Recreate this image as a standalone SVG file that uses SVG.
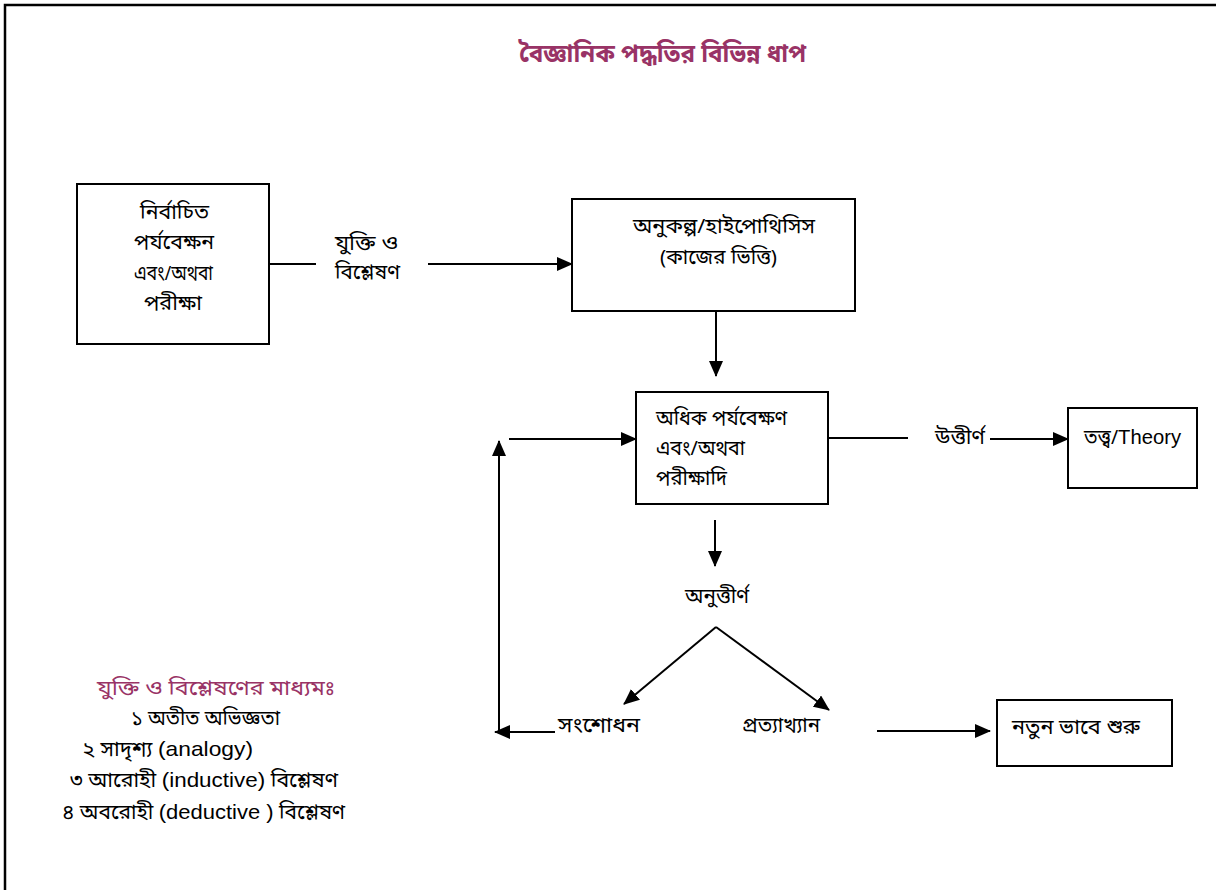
<svg xmlns="http://www.w3.org/2000/svg" width="1216" height="890" viewBox="0 0 1216 890">
<defs>
<marker id="ah" markerUnits="userSpaceOnUse" markerWidth="16" markerHeight="14" refX="15" refY="7" orient="auto">
<path d="M0,0 L16,7 L0,14 Z" fill="#000"/>
</marker>
<style>
.bx{fill:#fff;stroke:#000;stroke-width:2}
.t{font-family:"Noto Sans Bengali","Liberation Sans",sans-serif;font-size:20px;fill:#000}
.L{font-family:"Liberation Sans",sans-serif;font-size:21px}
.c{text-anchor:middle}
.m{fill:#993366}
.ln{stroke:#000;stroke-width:2;fill:none}
.ar{stroke:#000;stroke-width:2;fill:none;marker-end:url(#ah)}
</style>
</defs>
<rect width="1216" height="890" fill="#fff"/>
<path d="M5,895 L5,5 L1220,5" fill="none" stroke="#000" stroke-width="2.5"/>
<text class="t m" x="519" y="62" textLength="287" lengthAdjust="spacingAndGlyphs" style="font-size:25px;font-weight:bold">বৈজ্ঞানিক পদ্ধতির বিভিন্ন ধাপ</text>

<g id="connectors">
<line class="ln" x1="269" y1="264" x2="316" y2="264"/>
<line class="ar" x1="428" y1="264" x2="572" y2="264"/>
<line class="ar" x1="716" y1="311" x2="716" y2="376"/>
<line class="ln" x1="828" y1="438" x2="908" y2="438"/>
<line class="ar" x1="990" y1="439" x2="1068" y2="439"/>
<line class="ar" x1="715" y1="520" x2="715" y2="566"/>
<line class="ar" x1="716" y1="627" x2="624" y2="704"/>
<line class="ar" x1="716" y1="627" x2="829" y2="710"/>
<line class="ar" x1="555" y1="732" x2="495" y2="732"/>
<line class="ar" x1="499" y1="732" x2="499" y2="441"/>
<line class="ar" x1="509" y1="439" x2="636" y2="439"/>
<line class="ar" x1="877" y1="731" x2="990" y2="731"/>
</g>

<g id="n1">
<rect class="bx" x="77" y="184" width="192" height="160"/>
<text class="t" x="140" y="219" textLength="69" lengthAdjust="spacingAndGlyphs">নির্বাচিত</text>
<text class="t" x="134" y="249" textLength="80" lengthAdjust="spacingAndGlyphs">পর্যবেক্ষন</text>
<text class="t" x="134" y="280" textLength="79" lengthAdjust="spacingAndGlyphs">এবং/অথবা</text>
<text class="t" x="144" y="310" textLength="58" lengthAdjust="spacingAndGlyphs">পরীক্ষা</text>
</g>
<g id="lbl1">
<text class="t" x="335" y="250" textLength="63" lengthAdjust="spacingAndGlyphs">যুক্তি ও</text>
<text class="t" x="335" y="279" textLength="65" lengthAdjust="spacingAndGlyphs">বিশ্লেষণ</text>
</g>
<g id="n2">
<rect class="bx" x="572" y="199" width="283" height="112"/>
<text class="t" x="633" y="233" textLength="182" lengthAdjust="spacingAndGlyphs">অনুকল্প/হাইপোথিসিস</text>
<text class="t" x="660" y="264" textLength="117" lengthAdjust="spacingAndGlyphs">(কাজের ভিত্তি)</text>
</g>
<g id="n3">
<rect class="bx" x="636" y="392" width="192" height="112"/>
<text class="t" x="656" y="425" textLength="131" lengthAdjust="spacingAndGlyphs">অধিক পর্যবেক্ষণ</text>
<text class="t" x="656" y="455" textLength="89" lengthAdjust="spacingAndGlyphs">এবং/অথবা</text>
<text class="t" x="656" y="485" textLength="71" lengthAdjust="spacingAndGlyphs">পরীক্ষাদি</text>
</g>
<g id="lbl2">
<text class="t" x="935" y="444" textLength="50" lengthAdjust="spacingAndGlyphs">উত্তীর্ণ</text>
</g>
<g id="n4">
<rect class="bx" x="1068" y="408" width="129" height="80"/>
<text class="t" x="1084" y="444" textLength="97" lengthAdjust="spacingAndGlyphs">তত্ত্ব/<tspan class="L">Theory</tspan></text>
</g>
<g id="lbl3">
<text class="t" x="685" y="603" textLength="64" lengthAdjust="spacingAndGlyphs">অনুত্তীর্ণ</text>
</g>
<g id="n5">
<text class="t" x="558" y="732" textLength="82" lengthAdjust="spacingAndGlyphs">সংশোধন</text>
</g>
<g id="n6">
<text class="t" x="742" y="732" textLength="78" lengthAdjust="spacingAndGlyphs">প্রত্যাখ্যান</text>
</g>
<g id="n7">
<rect class="bx" x="997" y="700" width="175" height="66"/>
<text class="t" x="1012" y="734" textLength="128" lengthAdjust="spacingAndGlyphs">নতুন ভাবে শুরু</text>
</g>
<g id="legend">
<text class="t m" x="97" y="695" textLength="238" lengthAdjust="spacingAndGlyphs">যুক্তি ও বিশ্লেষণের মাধ্যমঃ</text>
<text class="t" x="131" y="725" textLength="149" lengthAdjust="spacingAndGlyphs">১ অতীত অভিজ্ঞতা</text>
<text class="t" x="82" y="756" textLength="171" lengthAdjust="spacingAndGlyphs">২ সাদৃশ্য <tspan class="L">(analogy)</tspan></text>
<text class="t" x="70" y="787" textLength="268" lengthAdjust="spacingAndGlyphs">৩ আরোহী  <tspan class="L">(inductive)</tspan> বিশ্লেষণ</text>
<text class="t" x="62" y="819" textLength="283" lengthAdjust="spacingAndGlyphs">৪ অবরোহী <tspan class="L">(deductive )</tspan> বিশ্লেষণ</text>
</g>
</svg>
